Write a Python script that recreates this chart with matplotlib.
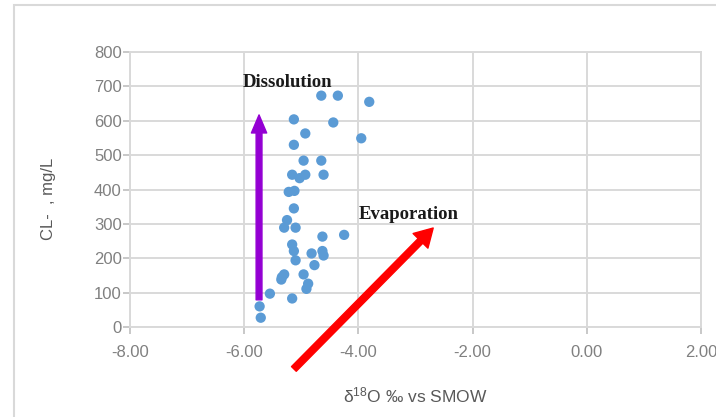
import matplotlib
matplotlib.use("Agg")
import matplotlib.pyplot as plt
from matplotlib.patches import FancyArrowPatch, Rectangle

# Data
d18O = [-4.65, -4.36, -3.81, -5.13, -4.44, -4.93, -3.95, -5.13, -4.96, -4.65,
        -5.16, -5.03, -4.93, -4.61, -5.22, -5.12, -5.13, -5.25, -5.30, -5.10,
        -4.63, -4.25, -5.16, -5.13, -4.63, -4.82, -4.61, -5.10, -4.77, -5.30,
        -5.34, -4.96, -5.35, -4.88, -4.91, -5.55, -5.16, -5.73, -5.71]
chloride = [673, 673, 655, 604, 595, 563, 549, 530, 484, 484,
            443, 433, 443, 443, 393, 396, 345, 311, 289, 289,
            263, 268, 240, 221, 221, 214, 208, 194, 180, 153,
            145, 153, 138, 126, 111, 97, 83, 60, 27]

x_ticks = [-8, -6, -4, -2, 0, 2]
x_tick_labels = ["-8.00", "-6.00", "-4.00", "-2.00", "0.00", "2.00"]
y_ticks = [0, 100, 200, 300, 400, 500, 600, 700, 800]

# arrows (tail, head) in data units and labels
dissolution_arrow = ((-5.74, 79), (-5.74, 617))
evaporation_arrow = ((-5.13, -122), (-2.69, 288))
dissolution_label = ("Dissolution", -6.02, 710)
evaporation_label = ("Evaporation", -4.0, 326)

plt.rcParams["font.family"] = ["Liberation Sans", "DejaVu Sans"]
plt.rcParams["mathtext.default"] = "regular"

fig = plt.figure(figsize=(7.16, 4.17), dpi=100)
ax = fig.add_axes([130/716, 1-327/417, (701-130)/716, (327-52)/417])

# outer chart border
fig.patches.append(Rectangle((14/716, -0.2), 2.0, 1.2 - 5/417, transform=fig.transFigure,
                             fill=False, edgecolor="#d9d9d9", lw=1.5, zorder=0))

ax.scatter(d18O, chloride, s=55, color="#5B9BD5", edgecolors="none", zorder=3)

ax.set_xlim(-8, 2)
ax.set_ylim(0, 800)
ax.set_xticks(x_ticks)
ax.set_xticklabels(x_tick_labels)
ax.set_yticks(y_ticks)
ax.grid(True, color="#d9d9d9", lw=1.4)
ax.set_axisbelow(True)
for s in ax.spines.values():
    s.set_color("#d9d9d9")
    s.set_linewidth(1.4)
ax.tick_params(axis="both", colors="#bfbfbf", length=5, width=1.2, labelsize=12,
               labelcolor="#808080")
ax.tick_params(axis="x", pad=8)
ax.tick_params(axis="y", pad=1)

ax.set_xlabel("δ$^{18}$O ‰ vs SMOW", fontsize=12.5, color="#595959", labelpad=18)
ax.set_ylabel("CL-  , mg/L", fontsize=12, color="#595959")
ax.yaxis.set_label_coords(-0.13, 0.465)

for (tail, head), color, tw, hw, hl in [
        (dissolution_arrow, "#9400D3", 4.2, 11, 13),
        (evaporation_arrow, "#FF0000", 4.8, 15, 13)]:
    arr = FancyArrowPatch(tail, head,
                          arrowstyle=f"simple,head_width={hw},head_length={hl},tail_width={tw}",
                          mutation_scale=1, color=color, shrinkA=0, shrinkB=0,
                          clip_on=False, zorder=4)
    ax.add_patch(arr)

for txt, x, y in [dissolution_label, evaporation_label]:
    ax.text(x, y, txt, fontsize=13.5, fontweight="bold", family="Liberation Serif",
            color="#1a1a1a", ha="left", va="center", zorder=5)

fig.savefig("out.png", dpi=100)
